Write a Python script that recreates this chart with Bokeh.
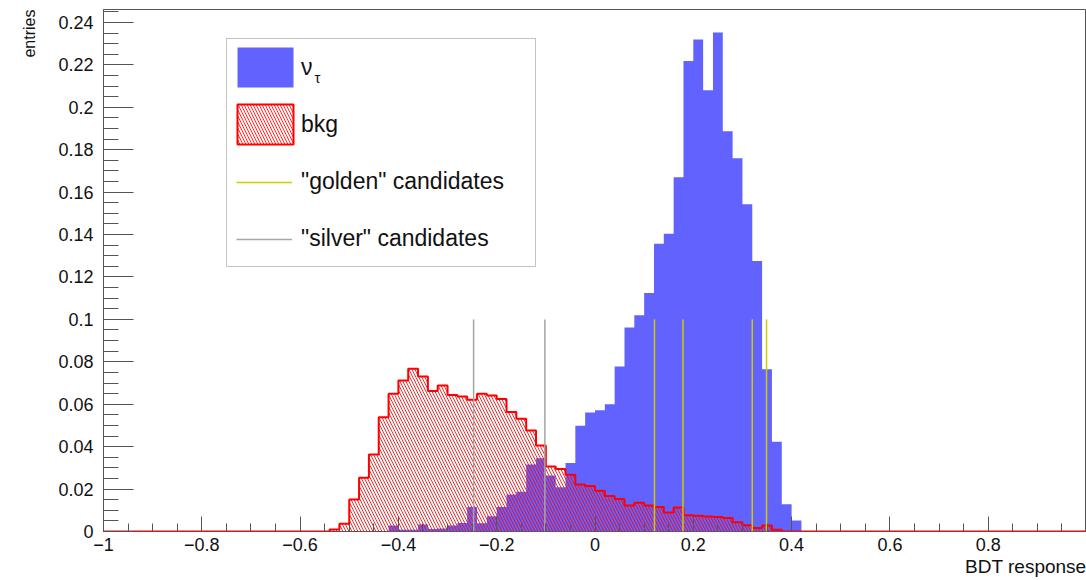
import numpy as np
from bokeh.plotting import figure
from bokeh.models import (Range1d, SingleIntervalTicker, CustomJSTickFormatter,
                          Legend, LegendItem, Label, Title)
from bokeh.embed import file_html
from bokeh.resources import INLINE

# ---------------- data ----------------
bin_edges = np.round(np.linspace(-1.0, 1.0, 101), 2)   # 100 bins of 0.02

# nu_tau signal (normalised entries per bin)
nu_tau = [0.0] * 29 + [
    0.0028, 0.0008, 0.0008, 0.0033, 0.0012, 0.0014, 0.0028, 0.0040,   # -0.42 .. -0.26
    0.0116, 0.0039, 0.0072, 0.0116, 0.0175, 0.0187, 0.0316, 0.0345,   # -0.26 .. -0.10
    0.0264, 0.0209, 0.0323, 0.0499, 0.0561,                           # -0.10 .. 0.00
    0.0572, 0.0600, 0.0778, 0.0962, 0.1020, 0.1124, 0.1357, 0.1404,   # 0.00 .. 0.16
    0.1670, 0.2218, 0.2320, 0.2080, 0.2352, 0.1887, 0.1760, 0.1543,   # 0.16 .. 0.32
    0.1275, 0.0765, 0.0423, 0.0128, 0.0052,                           # 0.32 .. 0.42
] + [0.0] * 29

# background
bkg = [0.0] * 23 + [
    0.0010, 0.0036, 0.0151, 0.0253, 0.0363, 0.0539, 0.0649, 0.0712,   # -0.54 .. -0.38
    0.0767, 0.0731, 0.0662, 0.0688, 0.0644, 0.0636, 0.0621, 0.0649,   # -0.38 .. -0.22
    0.0641, 0.0625, 0.0563, 0.0531, 0.0476, 0.0405, 0.0306, 0.0295,   # -0.22 .. -0.06
    0.0268, 0.0222, 0.0215,                                           # -0.06 .. 0.00
    0.0192, 0.0167, 0.0153, 0.0123, 0.0136, 0.0123, 0.0115, 0.0090,   # 0.00 .. 0.16
    0.0113, 0.0077, 0.0074, 0.0071, 0.0068, 0.0064, 0.0044, 0.0030,   # 0.16 .. 0.32
    0.0016, 0.0028, 0.0008,                                           # 0.32 .. 0.38
] + [0.0] * 31

golden_x = [0.121, 0.179, 0.320, 0.349]
silver_x = [-0.247, -0.102]
candidate_top = 0.1

assert len(nu_tau) == 100 and len(bkg) == 100

nu_ext = list(nu_tau) + [nu_tau[-1]]
bkg_ext = list(bkg) + [bkg[-1]]

FONT = "Liberation Sans"
AX = "#555555"
TXT = "#111111"
GOLD = "#cccc00"
SILVER = "#a6a6a6"
HATCH = dict(hatch_pattern="\\", hatch_color="red", hatch_scale=6,
             hatch_weight=1.0, hatch_alpha=0.85)

p = figure(width=1086, height=580, output_backend="svg", toolbar_location=None,
           x_range=Range1d(-1.0, 1.0), y_range=Range1d(0.0, 0.2461),
           min_border_left=103, min_border_right=0, min_border_top=9,
           min_border_bottom=49)
p.xgrid.visible = False
p.ygrid.visible = False
p.outline_line_color = AX
p.outline_line_width = 1
p.background_fill_color = "white"
p.border_fill_color = "white"

# signal histogram
blue = p.varea_step(x=bin_edges, y1=0, y2=nu_ext, step_mode="after",
                    fill_color="#6262ff")

# background: hatched area + red outline
p.varea_step(x=bin_edges, y1=0, y2=bkg_ext, step_mode="after",
             fill_color=None, **HATCH)
p.step(x=bin_edges, y=bkg_ext, mode="after", line_color="red", line_width=2)

# candidate lines
golden = p.segment(x0=golden_x, y0=0, x1=golden_x, y1=candidate_top,
                   line_color=GOLD, line_width=1.5)
silver = p.segment(x0=silver_x, y0=0, x1=silver_x, y1=candidate_top,
                   line_color=SILVER, line_width=1.5)

# hidden renderers that only provide legend symbols
bkg_leg = p.quad(left=bin_edges[:-1], right=bin_edges[1:], top=bkg, bottom=0,
                 fill_color="white", line_color="red", line_width=2,
                 visible=False, **HATCH)
golden_ghost = p.segment(x0=golden_x, y0=0, x1=golden_x, y1=candidate_top,
                         line_alpha=0, visible=False)
silver_ghost = p.segment(x0=silver_x, y0=0, x1=silver_x, y1=candidate_top,
                         line_alpha=0, visible=False)

# axes
p.xaxis.ticker = SingleIntervalTicker(interval=0.2, num_minor_ticks=4)
p.yaxis.ticker = SingleIntervalTicker(interval=0.02, num_minor_ticks=4)
p.xaxis.formatter = CustomJSTickFormatter(
    code="if (tick > 0.99) return ''; "
         "const s = Number(tick.toFixed(2)).toString(); return s.replace('-', '\u2212');")
p.yaxis.formatter = CustomJSTickFormatter(
    code="return Number(tick.toFixed(3)).toString();")

for ax in (p.xaxis, p.yaxis):
    ax.major_tick_out = 0
    ax.minor_tick_out = 0
    ax.major_tick_line_color = AX
    ax.minor_tick_line_color = AX
    ax.major_label_text_font = FONT
    ax.major_label_text_font_size = "18px"
    ax.major_label_text_color = TXT
p.xaxis.axis_line_color = None
p.xaxis.major_tick_in = 15
p.xaxis.minor_tick_in = 8
p.xaxis.major_label_standoff = 6
p.yaxis.axis_line_color = AX
p.yaxis.major_tick_in = 30
p.yaxis.minor_tick_in = 15
p.yaxis.major_label_standoff = 10

# axis titles (ROOT style: right / top aligned)
p.add_layout(Title(text="BDT response", align="right", text_font=FONT,
                   text_font_size="19px", text_font_style="normal",
                   text_color=TXT, standoff=0), "below")
p.add_layout(Title(text="entries", align="right", text_font=FONT,
                   text_font_size="16px", text_font_style="normal",
                   text_color=TXT, standoff=35), "left")

# legend: box with labels (area symbols) ...
legend = Legend(items=[
    LegendItem(label="\u03bd", renderers=[blue]),
    LegendItem(label="bkg", renderers=[bkg_leg]),
    LegendItem(label='"golden" candidates', renderers=[golden_ghost]),
    LegendItem(label='"silver" candidates', renderers=[silver_ghost]),
], location=(123, 264), orientation="vertical", glyph_width=70, glyph_height=50,
   label_height=50, label_width=231, label_standoff=1, spacing=7, padding=3,
   margin=0, border_line_color="#888888", border_line_width=1.5,
   background_fill_alpha=0,
   label_text_font=FONT, label_text_font_size="23px", label_text_color=TXT,
   label_text_baseline="middle")
p.add_layout(legend)

# ... and the short line symbols of the candidate entries
legend_lines = Legend(items=[
    LegendItem(label=" ", renderers=[golden]),
    LegendItem(label=" ", renderers=[silver]),
], location=(133, 267), orientation="vertical", glyph_width=56, glyph_height=50,
   label_height=50, label_width=1, label_standoff=0, spacing=7, padding=0,
   margin=0, border_line_color=None, background_fill_alpha=0,
   label_text_font=FONT, label_text_font_size="10px")
p.add_layout(legend_lines)

# subscript tau of the nu_tau legend entry
p.add_layout(Label(x=-0.5707, y=0.2140, text="\u03c4", text_font=FONT,
                   text_font_size="15px", text_color=TXT,
                   text_baseline="alphabetic"))

open("out.html", "w").write(file_html(p, INLINE))
